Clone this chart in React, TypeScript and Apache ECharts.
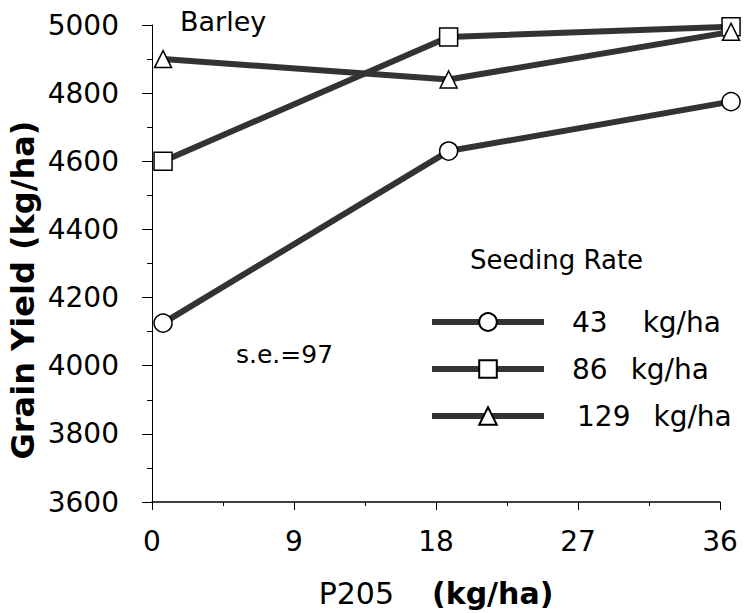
import React, { useEffect, useRef } from "react";
import * as echarts from "echarts";

const xValues = [0.7, 18.8, 36.7];
const seedingRates = ["43", "86", "129"];
const seriesNames = ["43 kg/ha", "86 kg/ha", "129 kg/ha"];
const seriesSymbols = ["circle", "rect", "triangle"];
const yield43 = [4125, 4630, 4775];
const yield86 = [4600, 4965, 4995];
const yield129 = [4900, 4840, 4980];
const xTicks = [0, 9, 18, 27, 36];

const FONT = "DejaVu Sans";

export default function App() {
  const ref = useRef<HTMLDivElement>(null);
  useEffect(() => {
    if (!ref.current) return;
    const chart = echarts.init(ref.current, null, { renderer: "svg" });
    const allY = [yield43, yield86, yield129];
    const symbolSizes = [18, 18, 17];
    const leadGap = [0, 0, 5];
    const midGap = [35, 23, 23];
    chart.setOption({
      animation: false,
      backgroundColor: "#ffffff",
      grid: { left: 152, top: 25, right: 35, bottom: 109, containLabel: false },
      xAxis: {
        type: "value",
        min: 0,
        max: 36,
        interval: 9,
        axisLine: { show: true, onZero: false, lineStyle: { color: "#000", width: 1.5 } },
        axisTick: { show: true, inside: false, length: 8, lineStyle: { color: "#000", width: 1 } },
        minorTick: { show: true, splitNumber: 2, length: 4, lineStyle: { color: "#000", width: 1 } },
        splitLine: { show: false },
        axisLabel: {
          margin: 25,
          fontSize: 28,
          color: "#000",
          fontFamily: FONT,
          formatter: (v: number) => (xTicks.includes(v) ? String(v) : ""),
        },
        name: "{a|P205}{s| }{b|(kg/ha)}",
        nameLocation: "middle",
        nameGap: 76,
        nameTextStyle: {
          rich: {
            a: { fontSize: 30, fontFamily: FONT, color: "#000" },
            s: { fontSize: 30, width: 38 },
            b: { fontSize: 30, fontFamily: FONT, fontWeight: "bold", color: "#000" },
          },
        },
      },
      yAxis: {
        type: "value",
        min: 3600,
        max: 5000,
        interval: 200,
        axisLine: { show: true, onZero: false, lineStyle: { color: "#000", width: 1 } },
        axisTick: { show: true, inside: false, length: 10, lineStyle: { color: "#000", width: 1 } },
        minorTick: { show: true, splitNumber: 2, length: 5, lineStyle: { color: "#000", width: 1 } },
        splitLine: { show: false },
        axisLabel: {
          margin: 33,
          fontSize: 28,
          color: "#000",
          fontFamily: FONT,
          formatter: (v: number) => String(v),
        },
      },
      legend: {
        orient: "vertical",
        left: 429,
        top: 307,
        padding: 0,
        itemWidth: 112,
        itemHeight: 22,
        itemGap: 17,
        selectedMode: false,
        lineStyle: { width: 6, color: "#333" },
        formatter: (name: string) => {
          const i = seriesNames.indexOf(name);
          return `{g${i}| }{n|${seedingRates[i]}}{m${i}| }{u|kg/ha}`;
        },
        textStyle: {
          fontSize: 28,
          fontFamily: FONT,
          color: "#000",
          padding: [0, 0, 0, 23],
          lineHeight: 30,
          rich: {
            n: { fontSize: 28, fontFamily: FONT, color: "#000" },
            u: { fontSize: 28, fontFamily: FONT, color: "#000" },
            g0: { width: leadGap[0] },
            g1: { width: leadGap[1] },
            g2: { width: leadGap[2] },
            m0: { width: midGap[0] },
            m1: { width: midGap[1] },
            m2: { width: midGap[2] },
          },
        },
        data: seriesNames,
      },
      series: seriesNames.map((name, i) => ({
        name,
        type: "line",
        clip: false,
        data: xValues.map((x, j) => [x, allY[i][j]]),
        symbol: seriesSymbols[i],
        symbolSize: symbolSizes[i],
        showAllSymbol: true,
        lineStyle: { color: "#333", width: 6 },
        itemStyle: { color: "#fff", borderColor: "#000", borderWidth: 1.5 },
        z: 2 + i,
      })),
      graphic: [
        {
          type: "text",
          left: 180,
          top: 8,
          style: { text: "Barley", fontSize: 27, fontFamily: FONT, fill: "#000" },
        },
        {
          type: "text",
          left: 236,
          top: 342,
          style: { text: "s.e.=97", fontSize: 25, fontFamily: FONT, fill: "#000" },
        },
        {
          type: "text",
          left: 470,
          top: 247,
          style: { text: "Seeding Rate", fontSize: 26, fontFamily: FONT, fill: "#000" },
        },
        {
          type: "text",
          x: 23,
          y: 290,
          rotation: Math.PI / 2,
          style: {
            text: "Grain Yield (kg/ha)",
            fontSize: 32,
            fontWeight: "bold",
            fontFamily: FONT,
            fill: "#000",
            align: "center",
            verticalAlign: "middle",
          },
        },
      ],
    });
    return () => chart.dispose();
  }, []);
  return (
    <div
      ref={ref}
      style={{ position: "absolute", left: 0, top: 0, width: 755, height: 613 }}
    />
  );
}
